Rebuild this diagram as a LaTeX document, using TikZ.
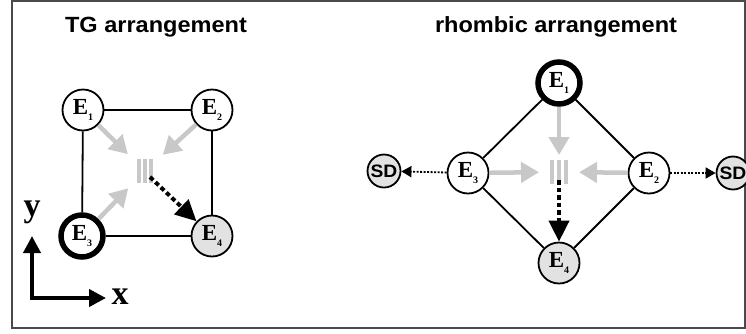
\documentclass[tikz,border=0pt]{standalone}
\usepackage{fontspec}
\setmainfont{Liberation Serif}
\newfontfamily\headfont[FakeStretch=1.07]{Liberation Sans}
\usetikzlibrary{arrows.meta}
\definecolor{arrgrey}{HTML}{C8C8C8}
\definecolor{nodegrey}{HTML}{E2E2E2}
\definecolor{framegrey}{HTML}{4A4A4A}
\newcommand{\elab}[1]{E\raisebox{-0.25em}{\fontsize{10}{10}\selectfont #1}}

\begin{document}
\begin{tikzpicture}[x=1pt, y=-1pt,
          site/.style={circle, draw, line width=1.8pt, fill=white, minimum size=41pt, inner sep=0pt,
                       font=\fontsize{23}{23}\selectfont\bfseries},
          donor/.style={site, line width=5.5pt, minimum size=42pt},
          accept/.style={site, fill=nodegrey},
          sdnode/.style={circle, draw, line width=1.8pt, fill=nodegrey, minimum size=33pt, inner sep=0pt,
                         font=\fontsize{18}{18}\selectfont\headfont\bfseries},
          edge/.style={line width=1.8pt},
          flow/.style={arrgrey, line width=4.5pt, -{Triangle[length=18pt, width=20pt]}},
          transfer/.style={line width=4pt, dash pattern=on 4.5pt off 3pt, -{Triangle[length=21pt, width=20pt]}},
          escape/.style={line width=1.8pt, dash pattern=on 2pt off 1.5pt, -{Triangle[length=10pt, width=11pt]}},
          bars/.style={arrgrey, line width=3.5pt},
          axis/.style={line width=4pt, -{Triangle[length=17pt, width=17pt]}},
          ttl/.style={font=\fontsize{22}{22}\selectfont\headfont\bfseries},
          axlbl/.style={font=\fontsize{34}{34}\selectfont\bfseries}]
  \useasboundingbox (0,0) rectangle (746,333);
  \draw[framegrey, line width=1.3pt] (12,1) rectangle (745,328);

  % TG arrangement
  \node[ttl] (tgtitle) at (156,27) {TG arrangement};
  \node[site]   (tg1) at (83,110)  {\elab{1}};
  \node[site]   (tg2) at (212,110) {\elab{2}};
  \node[donor]  (tg3) at (82,236)  {\elab{3}};
  \node[accept] (tg4) at (212,236) {\elab{4}};
  \draw[edge] (tg1)--(tg2); \draw[edge] (tg2)--(tg4); \draw[edge] (tg4)--(tg3); \draw[edge] (tg3)--(tg1);
  \coordinate (tgc) at (145,171);
  \coordinate (tgs) at (150,177);
  \foreach \dx in {-6,0,6} \draw[bars] ([xshift=\dx pt, yshift=12pt]tgc) -- ([xshift=\dx pt, yshift=-12pt]tgc);
  \draw[flow, shorten >=24pt] (tg1)--(tgc); \draw[flow, shorten >=24pt] (tg2)--(tgc); \draw[flow, shorten >=24pt] (tg3)--(tgc);
  \draw[transfer] (tgs)--(tg4);

  % axes
  \coordinate (orig) at (32,298);
  \coordinate (ytip) at (32,236);
  \coordinate (xtip) at (106,298);
  \draw[axis] ([xshift=-2pt]orig)--(xtip);
  \draw[axis] ([yshift=-2pt]orig)--(ytip);
  \node[axlbl] (ylbl) at (32,212) {y};
  \node[axlbl] (xlbl) at (120,297) {x};

  % rhombic arrangement
  \node[ttl] (rhtitle) at (556,27) {rhombic arrangement};
  \node[donor]  (rh1) at (559,83)  {\elab{1}};
  \node[site]   (rh2) at (649,173) {\elab{2}};
  \node[site]   (rh3) at (468,173) {\elab{3}};
  \node[accept] (rh4) at (559,263) {\elab{4}};
  \node[sdnode] (sdl) at (384,171) {SD};
  \node[sdnode] (sdr) at (733,173) {SD};
  \draw[edge] (rh1)--(rh2); \draw[edge] (rh2)--(rh4); \draw[edge] (rh4)--(rh3); \draw[edge] (rh3)--(rh1);
  \coordinate (rhc) at (559,172);
  \coordinate (rhs) at (559,180);
  \foreach \dx in {-7,0,7} \draw[bars] ([xshift=\dx pt, yshift=12pt]rhc) -- ([xshift=\dx pt, yshift=-12pt]rhc);
  \draw[flow, shorten >=17pt] (rh1)--(rhc); \draw[flow, shorten >=20pt] (rh2)--(rhc); \draw[flow, shorten >=20pt] (rh3)--(rhc);
  \draw[transfer] (rhs)--(rh4);
  \draw[escape] (rh3)--(sdl); \draw[escape] (rh2)--(sdr);
\end{tikzpicture}
\end{document}
